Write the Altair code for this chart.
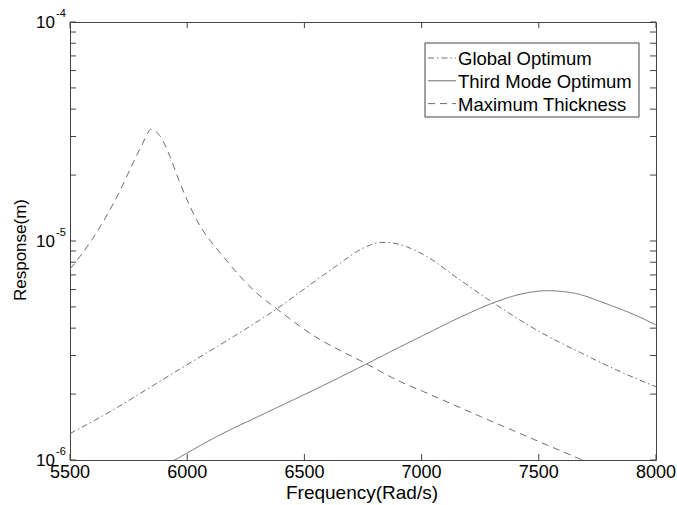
import altair as alt
import pandas as pd

# Frequency response of three plate designs
freq_global = [5500, 5670, 5855, 6011, 6197, 6382, 6524, 6653, 6724, 6767, 6823, 6852,
               6940, 7023, 7150, 7308, 7493, 7678, 7863, 8000]
resp_global = [1.32e-6, 1.66e-6, 2.19e-6, 2.77e-6, 3.66e-6, 4.90e-6, 6.31e-6, 7.93e-6,
               8.95e-6, 9.45e-6, 9.85e-6, 9.85e-6, 9.38e-6, 8.49e-6, 6.80e-6, 5.20e-6,
               3.91e-6, 3.09e-6, 2.49e-6, 2.16e-6]

freq_third = [5900, 5947, 6126, 6339, 6553, 6767, 6909, 6994, 7165, 7307, 7422, 7536,
              7650, 7792, 7935, 8000]
resp_third = [0.937e-6, 1.00e-6, 1.279e-6, 1.648e-6, 2.118e-6, 2.754e-6, 3.289e-6,
              3.648e-6, 4.487e-6, 5.224e-6, 5.715e-6, 5.93e-6, 5.78e-6, 5.15e-6,
              4.47e-6, 4.13e-6]

freq_thick = [5500, 5598, 5705, 5784, 5812, 5830, 5844, 5860, 5883, 5926, 5969, 6040,
              6154, 6297, 6382, 6524, 6767, 6909, 7009, 7251, 7465, 7678, 8000]
resp_thick = [7.44e-6, 1.03e-5, 1.63e-5, 2.455e-5, 2.818e-5, 3.09e-5, 3.236e-5, 3.19e-5,
              3.027e-5, 2.438e-5, 1.841e-5, 1.25e-5, 8.49e-6, 5.78e-6, 4.90e-6, 3.79e-6,
              2.74e-6, 2.28e-6, 2.05e-6, 1.58e-6, 1.26e-6, 1.007e-6, 0.70e-6]

series_names = ["Global Optimum", "Third Mode Optimum", "Maximum Thickness"]
series_dash = [[6, 3, 1.5, 3], [1, 0], [7, 5]]

x_ticks = [5500, 6000, 6500, 7000, 7500, 8000]
y_decades = [1e-6, 1e-5, 1e-4]
y_exponents = ["-6", "-5", "-4"]
y_mantissas = [2, 3, 4, 5, 6, 7, 8, 9]

W, H = 586, 438
LINE = "#6e6e6e"
FRAME = "#444444"
FONT = "Liberation Sans"

xs = alt.Scale(domain=[5500, 8000], nice=False, zero=False)
ys = alt.Scale(type="log", domain=[1e-6, 1e-4], nice=False)

curves = [(freq_global, resp_global), (freq_third, resp_third), (freq_thick, resp_thick)]
layers = []
for i, (f, r) in enumerate(curves):
    df = pd.DataFrame({"f": f, "r": r})
    layers.append(
        alt.Chart(df).mark_line(clip=True, color=LINE, strokeWidth=1,
                                strokeDash=series_dash[i], interpolate="monotone")
        .encode(x=alt.X("f:Q", scale=xs, axis=None),
                y=alt.Y("r:Q", scale=ys, axis=None))
    )

# inward tick marks on all four sides
xt = pd.DataFrame({"v": x_ticks, "lab": [str(v) for v in x_ticks]})
for y0, y1 in [(H, H - 6), (0, 6)]:
    layers.append(alt.Chart(xt).mark_rule(color=FRAME, strokeWidth=1)
                  .encode(x=alt.X("v:Q", scale=xs, axis=None),
                          y=alt.value(y0), y2=alt.value(y1)))

yt_vals = list(y_decades) + [m * d for d in y_decades[:-1] for m in y_mantissas]
yt = pd.DataFrame({"v": yt_vals})
for x0, x1 in [(0, 6), (W, W - 6)]:
    layers.append(alt.Chart(yt).mark_rule(color=FRAME, strokeWidth=1)
                  .encode(y=alt.Y("v:Q", scale=ys, axis=None),
                          x=alt.value(x0), x2=alt.value(x1)))

# frequency labels and axis title
layers.append(alt.Chart(xt).mark_text(align="center", baseline="alphabetic", fontSize=18,
                                      font=FONT, color="black")
              .encode(x=alt.X("v:Q", scale=xs, axis=None), y=alt.value(H + 18),
                      text="lab:N"))
layers.append(alt.Chart(pd.DataFrame({"t": ["Frequency(Rad/s)"]}))
              .mark_text(align="center", baseline="alphabetic", fontSize=19,
                         font=FONT, color="black")
              .encode(x=alt.value(W / 2 - 1), y=alt.value(H + 39), text="t:N"))

# power-of-ten labels
yl = pd.DataFrame({"v": y_decades, "base": ["10"] * 3, "exp": y_exponents})
layers.append(alt.Chart(yl).mark_text(align="right", baseline="middle", fontSize=17,
                                      font=FONT, color="black", dy=1)
              .encode(y=alt.Y("v:Q", scale=ys, axis=None), x=alt.value(-15), text="base:N"))
layers.append(alt.Chart(yl).mark_text(align="left", baseline="middle", fontSize=11,
                                      font=FONT, color="black", dy=-8)
              .encode(y=alt.Y("v:Q", scale=ys, axis=None), x=alt.value(-14), text="exp:N"))

# y-axis title
layers.append(alt.Chart(pd.DataFrame({"t": ["Response(m)"]}))
              .mark_text(angle=270, align="center", baseline="middle", fontSize=17,
                         font=FONT, color="black")
              .encode(x=alt.value(-49), y=alt.value(228), text="t:N"))

# legend box
legend_left, legend_top, legend_right, legend_bottom = 355, 21, 569, 95
layers.append(alt.Chart(pd.DataFrame({"a": [0]}))
              .mark_rect(fill="white", stroke=FRAME, strokeWidth=1)
              .encode(x=alt.value(legend_left), x2=alt.value(legend_right),
                      y=alt.value(legend_top), y2=alt.value(legend_bottom)))
for i, name in enumerate(series_names):
    row_y = 36 + i * 22.8
    layers.append(alt.Chart(pd.DataFrame({"a": [0]}))
                  .mark_rule(color=LINE, strokeWidth=1, strokeDash=series_dash[i])
                  .encode(x=alt.value(legend_left + 3), x2=alt.value(legend_left + 31),
                          y=alt.value(row_y), y2=alt.value(row_y)))
    layers.append(alt.Chart(pd.DataFrame({"t": [name]}))
                  .mark_text(align="left", baseline="middle", fontSize=18.5, font=FONT,
                             color="black")
                  .encode(x=alt.value(legend_left + 33), y=alt.value(row_y + 1), text="t:N"))

chart = (
    alt.layer(*layers)
    .properties(width=W, height=H, autosize="none",
                padding={"left": 70, "top": 22, "right": 21, "bottom": 45},
                background="white")
    .configure_view(stroke=FRAME, strokeWidth=1)
)

chart.save("out.html", embed_options={"renderer": "svg", "actions": False})
